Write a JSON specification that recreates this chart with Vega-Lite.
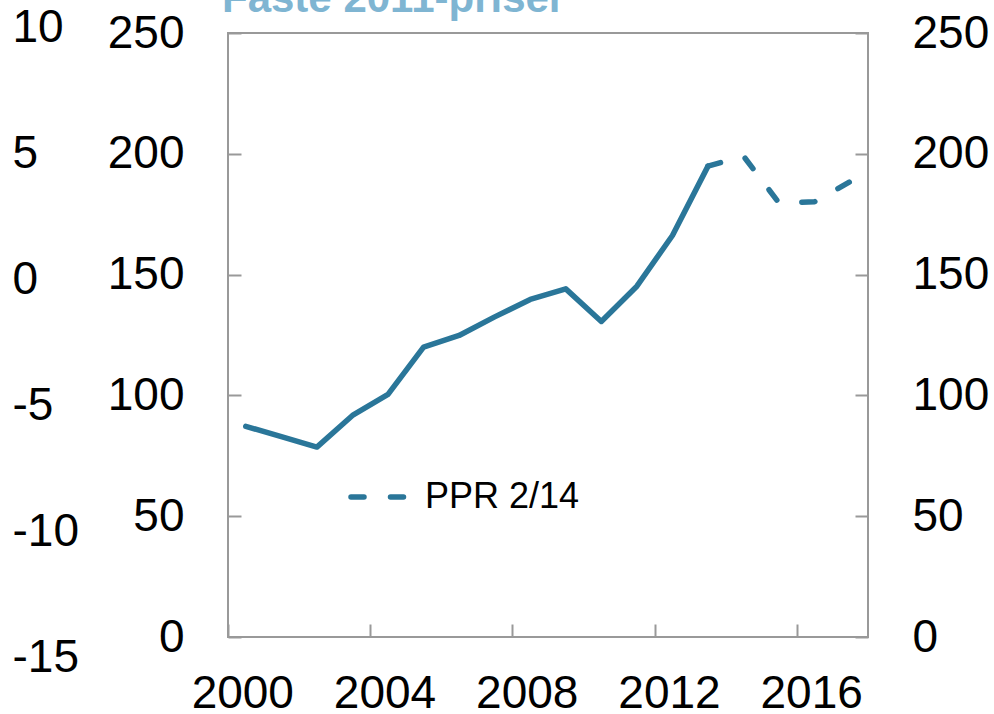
{
  "$schema": "https://vega.github.io/schema/vega-lite/v6.json",
  "autosize": {"type": "none"},
  "padding": {"left": 228, "top": 33, "right": 126, "bottom": 77},
  "width": 640,
  "height": 604,
  "background": "white",
  "config": {
    "font": "Liberation Sans",
    "view": {"stroke": "#999999", "strokeWidth": 2},
    "axis": {"grid": false, "domain": false, "labelFont": "Liberation Sans", "labelColor": "#000000", "labelFontSize": 46, "tickColor": "#999999", "tickWidth": 2, "titleFontSize": 0}
  },
  "title": {
    "text": "Faste 2011-priser",
    "anchor": "start",
    "frame": "group",
    "orient": "top",
    "baseline": "alphabetic",
    "offset": -50,
    "dx": -6,
    "font": "Liberation Sans",
    "fontSize": 42,
    "fontWeight": "bold",
    "color": "#7fb5d2"
  },
  "data": {
    "values": [
      {"year": 2000, "value": 87.2, "series": "Faktisk"},
      {"year": 2001, "value": 82.9, "series": "Faktisk"},
      {"year": 2002, "value": 78.6, "series": "Faktisk"},
      {"year": 2003, "value": 91.7, "series": "Faktisk"},
      {"year": 2004, "value": 100.4, "series": "Faktisk"},
      {"year": 2005, "value": 120.0, "series": "Faktisk"},
      {"year": 2006, "value": 124.8, "series": "Faktisk"},
      {"year": 2007, "value": 132.5, "series": "Faktisk"},
      {"year": 2008, "value": 139.7, "series": "Faktisk"},
      {"year": 2009, "value": 144.1, "series": "Faktisk"},
      {"year": 2010, "value": 130.6, "series": "Faktisk"},
      {"year": 2011, "value": 145.2, "series": "Faktisk"},
      {"year": 2012, "value": 166.2, "series": "Faktisk"},
      {"year": 2013, "value": 194.9, "series": "Faktisk"},
      {"year": 2013, "value": 194.9, "series": "PPR 2/14"},
      {"year": 2014, "value": 199.0, "series": "PPR 2/14"},
      {"year": 2015, "value": 179.6, "series": "PPR 2/14"},
      {"year": 2016, "value": 180.2, "series": "PPR 2/14"},
      {"year": 2017, "value": 188.5, "series": "PPR 2/14"}
    ]
  },
  "encoding": {
    "x": {
      "field": "year",
      "type": "ordinal",
      "scale": {"type": "band", "paddingInner": 0, "paddingOuter": 0, "domain": [2000,2001,2002,2003,2004,2005,2006,2007,2008,2009,2010,2011,2012,2013,2014,2015,2016,2017]},
      "axis": {"values": [2000, 2004, 2008, 2012, 2016], "tickBand": "center", "tickOffset": -17.78, "labelOffset": 14.3, "tickSize": -13, "labelPadding": 47, "labelAngle": 0, "labelFlush": false, "title": null}
    }
  },
  "layer": [
    {
      "transform": [{"filter": "datum.series === 'Faktisk'"}],
      "mark": {"type": "line", "color": "#2a7699", "strokeWidth": 5.5, "strokeCap": "round", "strokeJoin": "round"},
      "encoding": {
        "y": {
          "field": "value",
          "type": "quantitative",
          "scale": {"domain": [0, 250], "nice": false, "zero": false},
          "axis": {"orient": "left", "values": [0, 50, 100, 150, 200, 250], "tickSize": -13, "labelPadding": 57, "title": null}
        }
      }
    },
    {
      "transform": [{"filter": "datum.series === 'PPR 2/14'"}],
      "mark": {"type": "line", "color": "#2a7699", "strokeWidth": 5.5, "strokeCap": "round", "strokeJoin": "round"},
      "encoding": {
        "y": {
          "field": "value",
          "type": "quantitative",
          "scale": {"domain": [0, 250], "nice": false, "zero": false},
          "axis": {"orient": "right", "values": [0, 50, 100, 150, 200, 250], "tickSize": -13, "labelPadding": 57, "title": null}
        },
        "strokeDash": {
          "field": "series",
          "type": "nominal",
          "scale": {"range": [[13, 26.5]]},
          "legend": {
            "title": null,
            "orient": "none",
            "legendX": 120,
            "legendY": 430,
            "padding": 0,
            "symbolType": "stroke",
            "symbolSize": 3844,
            "symbolStrokeWidth": 5.5,
            "symbolStrokeColor": "#2a7699",
            "labelFont": "Liberation Sans",
            "labelFontSize": 36,
            "labelColor": "#000000",
            "labelOffset": 9,
            "labelLimit": 400,
            "encode": {"symbols": {"update": {"strokeCap": {"value": "round"}, "strokeDash": {"value": [13, 26.5]}}}}
          }
        }
      }
    },
    {
      "transform": [{"filter": "datum.value < 10"}],
      "mark": {"type": "point", "opacity": 0},
      "encoding": {
        "y": {
          "field": "value",
          "type": "quantitative",
          "scale": {"domain": [-15, 10], "range": [624, -6], "nice": false, "zero": false},
          "axis": {"orient": "left", "values": [-15, -10, -5, 0, 5, 10], "ticks": false, "labelAlign": "left", "labelPadding": 216, "offset": 0, "title": null, "labelExpr": "datum.value < 0 ? '-' + abs(datum.value) : '' + datum.value"}
        }
      }
    }
  ],
  "resolve": {"scale": {"y": "independent"}, "axis": {"y": "independent"}}
}
